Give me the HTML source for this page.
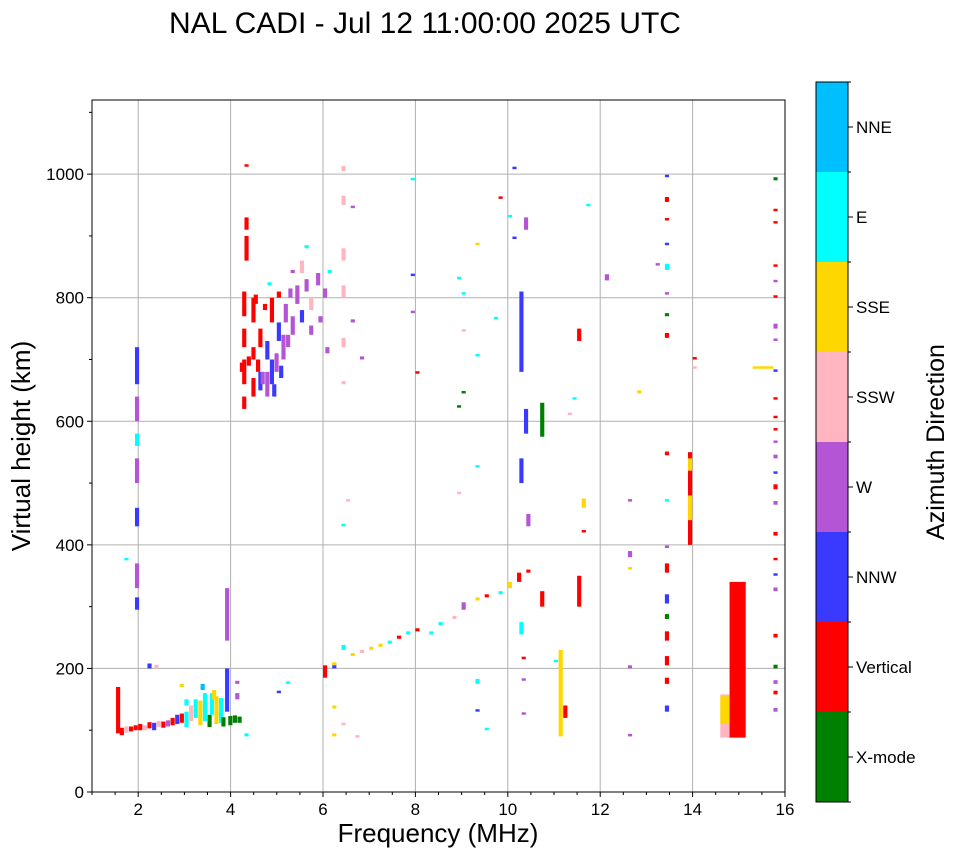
<!DOCTYPE html>
<html><head><meta charset="utf-8"><style>
body{margin:0;background:#fff;font-family:"Liberation Sans","DejaVu Sans",sans-serif}
svg text{font-family:"Liberation Sans","DejaVu Sans",sans-serif}
</style></head><body>
<svg id="chart" width="958" height="857" xmlns="http://www.w3.org/2000/svg">
<rect width="958" height="857" fill="#fff"/>
<text x="425" y="33" font-size="30" text-anchor="middle">NAL CADI - Jul 12 11:00:00 2025 UTC</text>
<g id="grid"></g>
<g id="marks"></g>
<rect x="92" y="100" width="693" height="692" fill="none" stroke="#000" stroke-width="1"/>
<g id="axes"></g>
<text x="438" y="842" font-size="26" text-anchor="middle">Frequency (MHz)</text>
<text transform="translate(30,446) rotate(-90)" font-size="26" text-anchor="middle">Virtual height (km)</text>
<g id="cbar"></g>
<text transform="translate(944,442) rotate(-90)" font-size="25" text-anchor="middle">Azimuth Direction</text>
</svg>
<script>
const xTicks=[2,4,6,8,10,12,14,16];
const yTicks=[0,200,400,600,800,1000];
const dirNames=["X-mode","Vertical","NNW","W","SSW","SSE","E","NNE"];
const dirColors=["#008000","#ff0000","#3a3aff","#b455d6","#ffb6c1","#ffd700","#00ffff","#00bfff"];
// [freq MHz, height km, direction index, height span km, width MHz(optional)]
const lowCluster=[[1.52,95,1,75],[1.6,92,1,12],[1.7,96,4,10],[1.8,98,1,8],[1.9,100,1,8],[2.0,100,1,10],[2.1,100,4,8],[2.2,103,1,10],[2.3,100,2,12],[2.4,105,4,10],[2.5,104,1,10],[2.6,106,3,10],[2.7,108,1,12],[2.8,110,2,15],[2.9,112,1,15],[3.0,105,6,25],[3.1,115,4,25],[3.2,120,6,30],[3.3,108,5,40],[3.4,115,6,45],[3.5,105,0,20],[3.55,125,6,35],[3.65,110,5,45],[3.75,112,6,40],[3.8,106,0,15],[3.95,108,0,15],[4.05,112,0,12],[4.15,112,0,10],[3.88,130,2,70],[3.88,245,3,85],[4.1,150,3,10],[4.1,175,3,5],[2.2,200,2,8],[2.35,200,4,6],[3.35,165,7,10],[3.0,140,6,10],[3.6,150,5,15],[2.9,170,5,5],[1.93,295,2,20],[1.93,330,3,40],[1.93,430,2,30],[1.93,500,3,40],[1.93,560,6,20],[1.93,600,3,40],[1.93,660,2,60],[1.7,375,6,3],[4.3,90,6,5]];
const fCluster=[[4.25,620,1,20],[4.25,660,1,40],[4.25,720,1,30],[4.25,770,1,40],[4.3,860,1,40],[4.3,910,1,20],[4.3,1012,1,4],[4.45,640,1,30],[4.45,700,1,20],[4.45,760,1,40],[4.6,650,2,30],[4.6,720,1,30],[4.75,640,3,40],[4.75,700,2,30],[4.85,660,2,40],[4.85,760,1,40],[4.95,680,3,30],[5.0,730,2,30],[5.1,700,3,40],[5.15,760,3,30],[5.3,740,3,30],[5.4,790,3,30],[5.5,760,2,20],[5.6,810,3,20],[5.7,780,4,20],[5.85,820,3,20],[6.0,800,3,15],[5.5,840,4,20],[5.0,800,1,10],[4.8,820,6,5],[6.1,840,6,5],[5.3,840,3,5],[5.6,880,6,5],[4.55,680,1,20],[4.35,690,1,15],[4.65,660,3,20],[4.9,640,2,20],[5.05,670,2,20],[5.2,720,3,20],[4.5,790,1,15],[4.7,780,1,10],[5.25,800,3,15],[5.7,740,3,15],[5.9,760,3,10],[6.05,710,3,10],[4.2,680,1,15]];
const scattered=[[6.4,1005,4,8],[6.4,950,4,15],[6.4,860,4,20],[6.4,800,4,20],[6.4,720,4,15],[6.4,660,4,5],[6.4,430,6,4],[6.6,760,3,5],[6.6,945,3,4],[6.5,470,4,3],[6.8,700,3,5],[7.9,990,6,4],[7.9,835,2,3],[7.9,775,3,3],[8.0,677,1,3],[8.9,830,6,3],[9.0,805,6,4],[8.9,622,0,4],[9.0,645,0,3],[9.3,885,5,3],[9.3,705,6,3],[9.3,525,6,4],[8.9,482,4,3],[9.0,745,4,3],[9.8,960,1,3],[9.7,765,6,3],[10.0,930,6,4],[10.1,1008,2,3],[10.1,895,2,3],[10.25,680,2,130],[10.25,500,2,40],[10.35,580,2,40],[10.35,910,3,20],[10.4,430,3,20],[10.7,575,0,55],[11.1,90,5,140],[11.2,120,1,20],[11.5,300,1,50],[11.5,730,1,20],[11.3,610,4,4],[11.4,635,6,3],[11.7,948,6,3],[11.6,460,5,15],[11.6,420,1,3],[12.1,828,3,10],[12.8,645,5,5],[12.6,470,3,3],[12.6,360,5,4],[12.6,380,3,10],[12.6,200,3,5],[12.6,90,3,3],[13.2,852,3,4],[13.4,995,2,2],[13.4,955,1,8],[13.4,925,1,4],[13.4,885,2,4],[13.4,845,6,10],[13.4,805,3,3],[13.4,770,0,5],[13.4,735,1,8],[13.4,545,1,6],[13.4,470,6,3],[13.4,395,3,4],[13.4,355,1,15],[13.4,305,2,15],[13.4,280,0,8],[13.4,245,1,15],[13.4,205,1,15],[13.4,175,1,10],[13.4,130,2,10],[13.9,400,1,150],[13.9,440,5,40],[13.9,520,5,20],[14.0,700,1,3],[14.0,685,4,3],[14.6,88,4,70,0.3],[14.6,110,5,45,0.25],[14.8,88,1,252,0.35],[15.3,685,5,3,0.45],[15.75,990,0,5],[15.75,940,1,4],[15.75,920,1,4],[15.75,850,1,4],[15.75,825,3,4],[15.75,800,1,4],[15.75,750,3,8],[15.75,730,3,4],[15.75,680,2,2],[15.75,635,1,4],[15.75,605,1,4],[15.75,585,1,4],[15.75,565,3,4],[15.75,540,3,6],[15.75,515,2,2],[15.75,490,1,8],[15.75,465,3,6],[15.75,415,1,6],[15.75,375,1,4],[15.75,350,2,2],[15.75,325,3,6],[15.75,250,1,6],[15.75,200,0,6],[15.75,175,3,6],[15.75,158,1,6],[15.75,130,3,6]];
const trace=[[6.0,185,1,20],[6.2,200,2,8],[6.4,230,6,8],[6.6,220,5,5],[6.8,225,4,5],[7.0,230,5,5],[7.2,235,5,5],[7.4,240,6,5],[7.6,248,1,5],[7.8,255,6,5],[8.0,260,1,5],[8.3,255,6,5],[8.5,270,6,5],[8.8,280,4,5],[9.0,295,3,12],[9.3,310,5,5],[9.5,315,1,5],[9.8,320,6,5],[10.0,330,5,10],[10.2,340,1,15],[10.4,355,1,5],[10.7,300,1,25],[10.25,255,6,20],[10.3,180,3,3],[10.3,125,3,3],[10.3,215,1,3],[11.0,210,6,3],[9.3,175,6,8],[9.3,130,2,3],[9.5,100,6,3],[6.2,135,5,5],[6.2,90,5,5],[6.7,88,4,3],[6.4,108,4,3],[5.2,175,6,3],[5.0,160,2,4],[6.2,205,5,5]];
const X0=92,X1=785,Y0=792,Y1=100,FMIN=1,FMAX=16,HMAX=1120;
const xs=f=>X0+(f-FMIN)/(FMAX-FMIN)*(X1-X0);
const ys=h=>Y0-h/HMAX*(Y0-Y1);
const NS="http://www.w3.org/2000/svg";
function mk(t,a,p){const e=document.createElementNS(NS,t);for(const k in a)e.setAttribute(k,a[k]);p.appendChild(e);return e;}
const grid=document.getElementById('grid'),axes=document.getElementById('axes'),marks=document.getElementById('marks'),cbar=document.getElementById('cbar');
xTicks.forEach(t=>{const x=xs(t);
const g=mk('line',{x1:x,x2:x,y1:Y1,y2:Y0,stroke:'#b0b0b0','stroke-width':1},grid);


mk('line',{x1:x,x2:x,y1:Y0,y2:Y0+5,stroke:'#000'},axes);
const tx=mk('text',{x:x,y:Y0+23,'font-size':17,'text-anchor':'middle'},axes);tx.textContent=t;

});
for(let f=1;f<=16;f+=0.5){if(xTicks.includes(f))continue;const x=xs(f);mk('line',{x1:x,x2:x,y1:Y0,y2:Y0+3,stroke:'#000'},axes);}
yTicks.forEach(t=>{const y=ys(t);
const g=mk('line',{x1:X0,x2:X1,y1:y,y2:y,stroke:'#b0b0b0','stroke-width':1},grid);


mk('line',{x1:X0-5,x2:X0,y1:y,y2:y,stroke:'#000'},axes);
const tx=mk('text',{x:X0-8,y:y+6,'font-size':17,'text-anchor':'end'},axes);tx.textContent=t;

});
for(let h=100;h<=1100;h+=100){if(yTicks.includes(h))continue;const y=ys(h);mk('line',{x1:X0-3,x2:X0,y1:y,y2:y,stroke:'#000'},axes);}
[lowCluster,fCluster,scattered,trace].forEach(arr=>arr.forEach(d=>{
const w=d[4]||0.09;const x=xs(d[0]),x2=xs(d[0]+w);const y=ys(d[1]+Math.max(d[3],4)),y2=ys(d[1]);
const r=mk('rect',{x:x,y:y,width:x2-x,height:y2-y,fill:dirColors[d[2]]},marks);

}));
const CB0=816,CBW=32,CBT=82,CBB=802,bh=(CBB-CBT)/8;
dirColors.forEach((c,i)=>{const y=CBB-(i+1)*bh;
const r=mk('rect',{x:CB0,y:y,width:CBW,height:bh,fill:c},cbar);


mk('line',{x1:CB0+CBW,x2:CB0+CBW+5,y1:y+bh/2,y2:y+bh/2,stroke:'#000'},cbar);
const tx=mk('text',{x:CB0+CBW+8,y:y+bh/2+6,'font-size':17},cbar);tx.textContent=dirNames[i];

});
for(let i=0;i<=8;i++){const y=CBB-i*bh;mk('line',{x1:CB0+CBW,x2:CB0+CBW+3,y1:y,y2:y,stroke:'#000'},cbar);}
mk('rect',{x:CB0,y:CBT,width:CBW,height:CBB-CBT,fill:'none',stroke:'#000'},cbar);
</script>
</body></html>
